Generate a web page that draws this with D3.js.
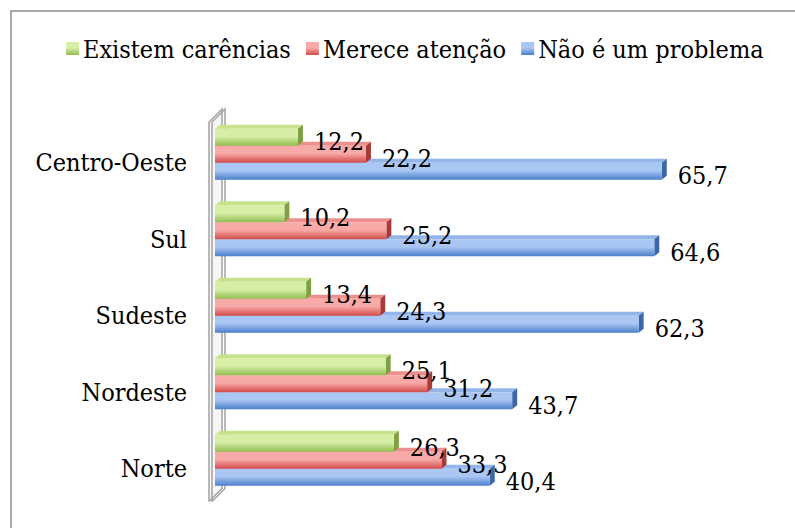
<!DOCTYPE html>
<html>
<head>
<meta charset="utf-8">
<script src="https://cdn.jsdelivr.net/npm/d3@7"></script>
<style>
  body { margin: 0; background: #fff; }
  text { font-family: "DejaVu Serif Condensed", "DejaVu Serif", "Liberation Serif", serif; font-stretch: condensed; fill: #000; }
</style>
</head>
<body>
<svg width="795" height="528"></svg>
<script>
// data
var regions = ["Centro-Oeste", "Sul", "Sudeste", "Nordeste", "Norte"];
var seriesNames = ["Existem carências", "Merece atenção", "Não é um problema"];
var carencias = [12.2, 10.2, 13.4, 25.1, 26.3];
var atencao = [22.2, 25.2, 24.3, 31.2, 33.3];
var naoProblema = [65.7, 64.6, 62.3, 43.7, 40.4];
var seriesValues = [carencias, atencao, naoProblema];

var colors = [
  {light: "#d6eea6", dark: "#93bd52", side: "#7ea043", top: "#c6e38c"},
  {light: "#f8aaa8", dark: "#d24b49", side: "#a93a38", top: "#ec8f8d"},
  {light: "#aac6f2", dark: "#4a7fcb", side: "#3b67aa", top: "#93b5ea"}
];

var fontSize = "25px";

var svg = d3.select("svg");
var locale = d3.formatLocale({decimal: ",", thousands: ".", grouping: [3], currency: ["R$", ""]});
var fmt = locale.format(".1f");

// outer frame
svg.append("rect")
  .attr("x", 11).attr("y", 11)
  .attr("width", 800).attr("height", 540)
  .attr("fill", "none")
  .attr("stroke", "#8c8c8c")
  .attr("stroke-width", 1.5);

var defs = svg.append("defs");
colors.forEach(function(c, i) {
  var g = defs.append("linearGradient")
    .attr("id", "grad" + i)
    .attr("x1", 0).attr("y1", 0).attr("x2", 0).attr("y2", 1);
  g.append("stop").attr("offset", "0%").attr("stop-color", c.light);
  g.append("stop").attr("offset", "45%").attr("stop-color", c.light);
  g.append("stop").attr("offset", "100%").attr("stop-color", c.dark);
});

var x = d3.scaleLinear().domain([0, 70]).range([215, 215 + 70 * 6.8]);
var y0 = d3.scaleBand().domain(regions).range([116, 498.5])
  .paddingInner(0.333).paddingOuter(0.1665);
var y1 = d3.scaleBand().domain(seriesNames).range([0, y0.bandwidth()]);

var dx = 5, dy = 4;

// back wall
var wTop = y0.range()[0] + 6, wBot = y0.range()[1] + 3;
[0, 3].forEach(function(off) {
  var wx = x(0) - 6 + off;
  var pts = [[wx, wBot], [wx, wTop], [wx + 13, wTop - 13], [wx + 13, wBot - 13], [wx, wBot]];
  svg.append("path")
    .attr("d", d3.line()(pts))
    .attr("fill", off === 0 ? "#f6f6f6" : "none")
    .attr("stroke", "#a2a2a2")
    .attr("stroke-width", 1.5);
});

// bars, drawn bottom series first so the upper ones cover their top faces
var bars = svg.append("g");
regions.forEach(function(r, ri) {
  for (var si = seriesNames.length - 1; si >= 0; si--) {
    var v = seriesValues[si][ri];
    var yy = y0(r) + y1(seriesNames[si]);
    var h = y1.bandwidth();
    var xa = x(0), xe = x(v);
    bars.append("path")
      .attr("d", d3.line()([[xa, yy], [xa + dx, yy - dy], [xe + dx, yy - dy], [xe, yy]]) + "Z")
      .attr("fill", colors[si].top);
    bars.append("path")
      .attr("d", d3.line()([[xe, yy], [xe + dx, yy - dy], [xe + dx, yy + h - dy], [xe, yy + h]]) + "Z")
      .attr("fill", colors[si].side);
    bars.append("rect")
      .attr("x", xa).attr("y", yy)
      .attr("width", xe - xa).attr("height", h)
      .attr("fill", "url(#grad" + si + ")");
  }
});

// value labels
var labels = svg.append("g").style("font-size", fontSize);
regions.forEach(function(r, ri) {
  seriesNames.forEach(function(s, si) {
    var v = seriesValues[si][ri];
    labels.append("text")
      .attr("x", x(v) + 16)
      .attr("y", y0(r) + y1(s) + y1.bandwidth() / 2 + 4)
      .attr("dy", "0.35em")
      .text(fmt(v));
  });
});

// category labels
svg.append("g").selectAll("text")
  .data(regions).enter().append("text")
  .attr("x", 187)
  .attr("y", function(d) { return y0(d) + y0.bandwidth() / 2 + 8; })
  .attr("dy", "0.35em")
  .attr("text-anchor", "end")
  .style("font-size", fontSize)
  .text(function(d) { return d; });

// legend
var legend = svg.append("g");
var lx = 66;
seriesNames.forEach(function(s, si) {
  legend.append("rect")
    .attr("x", lx).attr("y", 42)
    .attr("width", 13).attr("height", 13)
    .attr("fill", "url(#grad" + si + ")");
  var t = legend.append("text")
    .attr("x", lx + 17).attr("y", 49)
    .attr("dy", "0.35em")
    .style("font-size", fontSize)
    .text(s);
  lx += 17 + t.node().getComputedTextLength() + 15;
});
</script>
</body>
</html>
